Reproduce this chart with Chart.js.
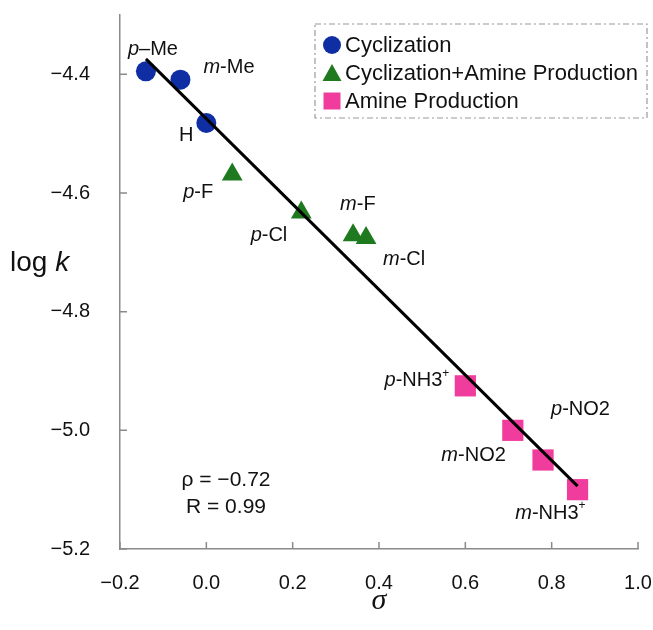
<!DOCTYPE html>
<html>
<head>
<meta charset="utf-8">
<script src="https://cdn.jsdelivr.net/npm/chart.js@4/dist/chart.umd.min.js"></script>
<style>
  html, body { margin: 0; padding: 0; background: #fff; }
  #wrap { width: 653px; height: 630px; }
</style>
</head>
<body>
<div id="wrap"><canvas id="hammettChart" width="653" height="630"></canvas></div>
<script>
// --- Hammett plot: log k vs sigma ---
const cycSigma = [-0.14, -0.06, 0.00];
const cycLogK = [-4.395, -4.409, -4.482];
const cycNames = ['p–Me', 'm-Me', 'H'];

const bothSigma = [0.06, 0.22, 0.34, 0.37];
const bothLogK = [-4.569, -4.633, -4.671, -4.676];
const bothNames = ['p-F', 'p-Cl', 'm-F', 'm-Cl'];

const amineSigma = [0.60, 0.71, 0.78, 0.86];
const amineLogK = [-4.925, -5.000, -5.050, -5.100];
const amineNames = ['p-NH3+', 'm-NO2', 'p-NO2', 'm-NH3+'];

// regression line end points
const fitSigma = [-0.14, 0.86];
const fitLogK = [-4.374, -5.094];

const xTicks = [-0.2, 0.0, 0.2, 0.4, 0.6, 0.8, 1.0];
const yTicks = [-5.2, -5.0, -4.8, -4.6, -4.4];

const seriesNames = ['Cyclization', 'Cyclization+Amine Production', 'Amine Production'];
const statText = ['ρ = −0.72', 'R = 0.99'];

const FONT = '"Liberation Sans", Arial, sans-serif';
const BLUE = '#0f2ea3';
const GREEN = '#1f7a1f';
const PINK = '#f03c9c';
const AXIS = '#8a8a8a';

// where each point label sits, relative to its marker (px)
const labelPos = {
    'p–Me':   { dx: -18, dy: -22, align: 'left' },
    'm-Me':   { dx: 23,  dy: -12, align: 'left' },
    'H':      { dx: -20, dy: 12,  align: 'center' },
    'p-F':    { dx: -19, dy: 18,  align: 'right' },
    'p-Cl':   { dx: -14, dy: 23,  align: 'right' },
    'm-F':    { dx: -13, dy: -31, align: 'left' },
    'm-Cl':   { dx: 17,  dy: 21,  align: 'left' },
    'p-NH3+': { dx: -16, dy: -5,  align: 'right' },
    'm-NO2':  { dx: -7,  dy: 25,  align: 'right' },
    'p-NO2':  { dx: 8,   dy: -51, align: 'left' },
    'm-NH3+': { dx: 8,   dy: 24,  align: 'right' }
};

const toPts = (xs, ys) => xs.map((x, i) => ({ x: x, y: ys[i] }));
const fmt = (v) => (v < -1e-9 ? '−' : '') + Math.abs(v).toFixed(1);

// italic p/m prefix, trailing + as superscript
function drawRich(ctx, text, x, y, align, size) {
    const parts = [];
    let rest = text;
    if (/^[pm][-–]/.test(text)) {
        parts.push({ t: text[0], font: `italic ${size}px ${FONT}`, dy: 0 });
        rest = text.slice(1);
    }
    let sup = false;
    if (rest.endsWith('+')) { sup = true; rest = rest.slice(0, -1); }
    parts.push({ t: rest, font: `${size}px ${FONT}`, dy: 0 });
    if (sup) parts.push({ t: '+', font: `${Math.round(size * 0.62)}px ${FONT}`, dy: -size * 0.38 });

    let w = 0;
    parts.forEach(p => { ctx.font = p.font; p.w = ctx.measureText(p.t).width; w += p.w; });
    let cx = align === 'left' ? x : align === 'right' ? x - w : x - w / 2;
    ctx.textAlign = 'left';
    ctx.textBaseline = 'middle';
    parts.forEach(p => {
        ctx.font = p.font;
        ctx.fillText(p.t, cx, y + p.dy);
        cx += p.w;
    });
}

const decorPlugin = {
    id: 'decor',
    afterDraw(chart) {
        const ctx = chart.ctx;
        const xs = chart.scales.x, ys = chart.scales.y;
        const area = chart.chartArea;
        ctx.save();

        // inside tick marks
        ctx.strokeStyle = AXIS;
        ctx.lineWidth = 1.5;
        ctx.beginPath();
        xTicks.forEach(v => {
            const px = xs.getPixelForValue(v);
            ctx.moveTo(px, area.bottom);
            ctx.lineTo(px, area.bottom - 7);
        });
        yTicks.forEach(v => {
            const py = ys.getPixelForValue(v);
            ctx.moveTo(area.left, py);
            ctx.lineTo(area.left + 7, py);
        });
        ctx.stroke();

        // point labels
        ctx.fillStyle = '#111';
        chart.data.datasets.forEach((ds) => {
            if (!ds.names) return;
            ds.data.forEach((p, i) => {
                const name = ds.names[i];
                const pos = labelPos[name];
                drawRich(ctx, name, xs.getPixelForValue(p.x) + pos.dx, ys.getPixelForValue(p.y) + pos.dy, pos.align, 20);
            });
        });

        // rho / R
        ctx.font = `21px ${FONT}`;
        ctx.textAlign = 'center';
        ctx.textBaseline = 'middle';
        ctx.fillText(statText[0], 226, 480);
        ctx.fillText(statText[1], 226, 507);

        // axis titles
        ctx.textBaseline = 'alphabetic';
        ctx.textAlign = 'left';
        ctx.font = `28px ${FONT}`;
        ctx.fillText('log ', 10, 271);
        const lw = ctx.measureText('log ').width;
        ctx.font = `italic 28px ${FONT}`;
        ctx.fillText('k', 10 + lw, 271);

        ctx.textAlign = 'center';
        ctx.textBaseline = 'middle';
        ctx.font = 'italic 30px "Liberation Serif", "Times New Roman", serif';
        ctx.fillText('σ', (area.left + area.right) / 2, 601);

        // legend box
        const lx = 315, ly = 24, lw2 = 332, lh = 94;
        ctx.fillStyle = '#fff';
        ctx.fillRect(lx, ly, lw2, lh);
        ctx.setLineDash([6, 3, 2, 3]);
        ctx.strokeStyle = '#9a9a9a';
        ctx.lineWidth = 1.2;
        ctx.strokeRect(lx, ly, lw2, lh);
        ctx.setLineDash([]);
        const rows = [45, 73, 101];
        const mx = 332;
        chart.data.datasets.forEach((ds, di) => {
            if (!ds.names) return;
            const cy = rows[di];
            ctx.fillStyle = ds.backgroundColor;
            ctx.beginPath();
            if (ds.pointStyle === 'circle') {
                ctx.arc(mx, cy, 9, 0, Math.PI * 2);
            } else if (ds.pointStyle === 'triangle') {
                ctx.moveTo(mx, cy - 9);
                ctx.lineTo(mx + 9.5, cy + 8);
                ctx.lineTo(mx - 9.5, cy + 8);
                ctx.closePath();
            } else {
                ctx.rect(mx - 8.5, cy - 8.5, 17, 17);
            }
            ctx.fill();
            ctx.fillStyle = '#111';
            ctx.font = `22px ${FONT}`;
            ctx.textAlign = 'left';
            ctx.textBaseline = 'middle';
            ctx.fillText(ds.label, 345, cy + 1);
        });

        ctx.restore();
    }
};

const chart = new Chart(document.getElementById('hammettChart').getContext('2d'), {
    type: 'scatter',
    data: {
        datasets: [
            {
                label: seriesNames[0],
                names: cycNames,
                data: toPts(cycSigma, cycLogK),
                pointStyle: 'circle',
                pointRadius: 10,
                backgroundColor: BLUE,
                borderColor: BLUE,
                borderWidth: 0,
                order: 1
            },
            {
                label: seriesNames[1],
                names: bothNames,
                data: toPts(bothSigma, bothLogK),
                pointStyle: 'triangle',
                pointRadius: 12,
                backgroundColor: GREEN,
                borderColor: GREEN,
                borderWidth: 0,
                order: 1
            },
            {
                label: seriesNames[2],
                names: amineNames,
                data: toPts(amineSigma, amineLogK),
                pointStyle: 'rect',
                pointRadius: 15,
                backgroundColor: PINK,
                borderColor: PINK,
                borderWidth: 0,
                order: 1
            },
            {
                type: 'line',
                label: 'fit',
                data: toPts(fitSigma, fitLogK),
                borderColor: '#000',
                borderWidth: 3,
                pointRadius: 0,
                fill: false,
                order: 0
            }
        ]
    },
    options: {
        responsive: false,
        animation: false,
        layout: { padding: { left: 0, right: 13, top: 15, bottom: 0 } },
        plugins: {
            legend: { display: false },
            tooltip: { enabled: false }
        },
        scales: {
            x: {
                type: 'linear',
                min: -0.2,
                max: 1.0,
                afterBuildTicks: (s) => { s.ticks = xTicks.map(v => ({ value: v })); },
                afterFit: (s) => { s.height = 81; s.paddingLeft = 0; s.paddingRight = 0; },
                grid: { display: true, drawOnChartArea: false, drawTicks: false },
                border: { color: AXIS, width: 1.5 },
                ticks: {
                    padding: 22,
                    color: '#111',
                    font: { family: FONT, size: 20 },
                    callback: (v) => fmt(v)
                }
            },
            y: {
                type: 'linear',
                min: -5.2,
                max: -4.3,
                afterBuildTicks: (s) => { s.ticks = yTicks.map(v => ({ value: v })); },
                afterFit: (s) => { s.width = 120; s.paddingTop = 0; s.paddingBottom = 0; },
                grid: { display: true, drawOnChartArea: false, drawTicks: false },
                border: { color: AXIS, width: 1.5 },
                ticks: {
                    padding: 30,
                    color: '#111',
                    font: { family: FONT, size: 20 },
                    callback: (v) => fmt(v)
                }
            }
        }
    },
    plugins: [decorPlugin]
});
</script>
</body>
</html>
